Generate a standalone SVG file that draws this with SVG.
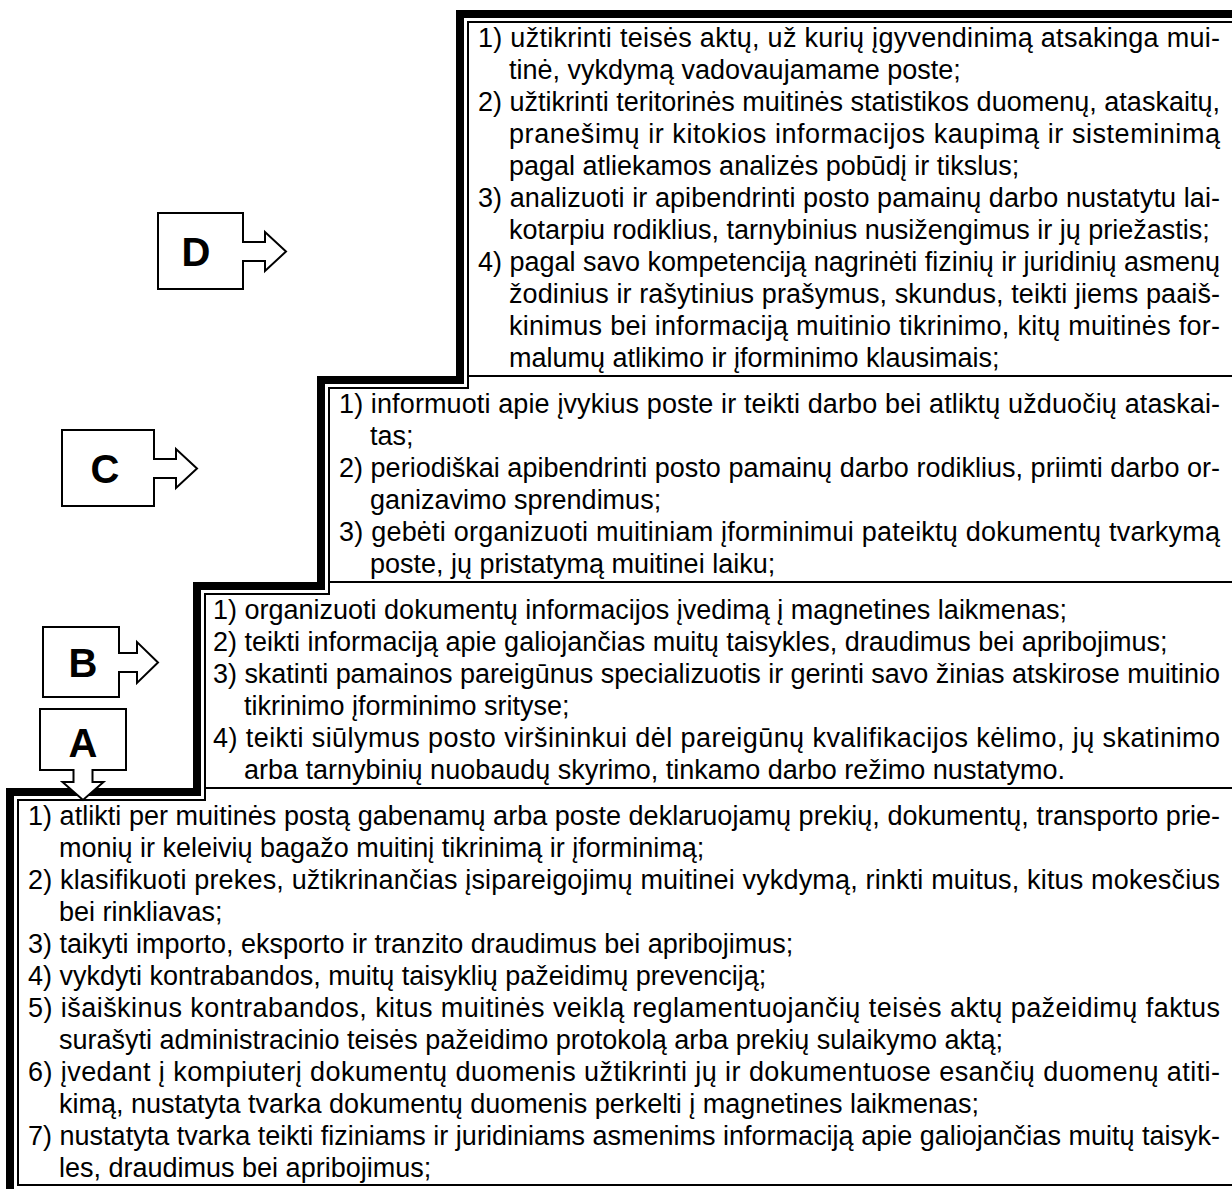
<svg xmlns="http://www.w3.org/2000/svg" width="1232" height="1189" viewBox="0 0 1232 1189">
<style>
.t{font-family:"Liberation Sans",Arial,Helvetica,sans-serif;font-size:27px;fill:#000}
.L{font-family:"Liberation Sans",Arial,Helvetica,sans-serif;font-size:40px;font-weight:bold;fill:#000;text-anchor:middle}
.thick{fill:none;stroke:#000;stroke-width:8;stroke-linejoin:miter}
.thin{fill:none;stroke:#000;stroke-width:2}
.box{fill:#fff;stroke:#000;stroke-width:2;stroke-linejoin:miter}
</style>
<rect width="1232" height="1189" fill="#fff"/>
<g id="frame">
<path class="thick" d="M1232,14 H460 V380 H321 V586 H197 V792 H10 V1189"/>
<path class="thin" d="M1232,22 H468 V388 H329 V594 H205 V800 H18 V1185 H1232"/>
<path class="thin" d="M468,376 H1232 M329,582 H1232 M205,788 H1232"/>
</g>
<g id="section-D">
<text class="t" x="478" y="47" textLength="742" lengthAdjust="spacing">1) užtikrinti teisės aktų, už kurių įgyvendinimą atsakinga mui-</text>
<text class="t" x="509" y="79">tinė, vykdymą vadovaujamame poste;</text>
<text class="t" x="478" y="111" textLength="742" lengthAdjust="spacing">2) užtikrinti teritorinės muitinės statistikos duomenų, ataskaitų,</text>
<text class="t" x="509" y="143" textLength="711" lengthAdjust="spacing">pranešimų ir kitokios informacijos kaupimą ir sisteminimą</text>
<text class="t" x="509" y="175">pagal atliekamos analizės pobūdį ir tikslus;</text>
<text class="t" x="478" y="207" textLength="742" lengthAdjust="spacing">3) analizuoti ir apibendrinti posto pamainų darbo nustatytu lai-</text>
<text class="t" x="509" y="239">kotarpiu rodiklius, tarnybinius nusižengimus ir jų priežastis;</text>
<text class="t" x="478" y="271" textLength="742" lengthAdjust="spacing">4) pagal savo kompetenciją nagrinėti fizinių ir juridinių asmenų</text>
<text class="t" x="509" y="303" textLength="711" lengthAdjust="spacing">žodinius ir rašytinius prašymus, skundus, teikti jiems paaiš-</text>
<text class="t" x="509" y="335" textLength="711" lengthAdjust="spacing">kinimus bei informaciją muitinio tikrinimo, kitų muitinės for-</text>
<text class="t" x="509" y="367">malumų atlikimo ir įforminimo klausimais;</text>
</g>
<g id="section-C">
<text class="t" x="339" y="413" textLength="881" lengthAdjust="spacing">1) informuoti apie įvykius poste ir teikti darbo bei atliktų užduočių ataskai-</text>
<text class="t" x="370" y="445">tas;</text>
<text class="t" x="339" y="477" textLength="881" lengthAdjust="spacing">2) periodiškai apibendrinti posto pamainų darbo rodiklius, priimti darbo or-</text>
<text class="t" x="370" y="509">ganizavimo sprendimus;</text>
<text class="t" x="339" y="541" textLength="881" lengthAdjust="spacing">3) gebėti organizuoti muitiniam įforminimui pateiktų dokumentų tvarkymą</text>
<text class="t" x="370" y="573">poste, jų pristatymą muitinei laiku;</text>
</g>
<g id="section-B">
<text class="t" x="213" y="619">1) organizuoti dokumentų informacijos įvedimą į magnetines laikmenas;</text>
<text class="t" x="213" y="651">2) teikti informaciją apie galiojančias muitų taisykles, draudimus bei apribojimus;</text>
<text class="t" x="213" y="683" textLength="1007" lengthAdjust="spacing">3) skatinti pamainos pareigūnus specializuotis ir gerinti savo žinias atskirose muitinio</text>
<text class="t" x="244" y="715">tikrinimo įforminimo srityse;</text>
<text class="t" x="213" y="747" textLength="1007" lengthAdjust="spacing">4) teikti siūlymus posto viršininkui dėl pareigūnų kvalifikacijos kėlimo, jų skatinimo</text>
<text class="t" x="244" y="779">arba tarnybinių nuobaudų skyrimo, tinkamo darbo režimo nustatymo.</text>
</g>
<g id="section-A">
<text class="t" x="28" y="825" textLength="1192" lengthAdjust="spacing">1) atlikti per muitinės postą gabenamų arba poste deklaruojamų prekių, dokumentų, transporto prie-</text>
<text class="t" x="59" y="857">monių ir keleivių bagažo muitinį tikrinimą ir įforminimą;</text>
<text class="t" x="28" y="889" textLength="1192" lengthAdjust="spacing">2) klasifikuoti prekes, užtikrinančias įsipareigojimų muitinei vykdymą, rinkti muitus, kitus mokesčius</text>
<text class="t" x="59" y="921">bei rinkliavas;</text>
<text class="t" x="28" y="953">3) taikyti importo, eksporto ir tranzito draudimus bei apribojimus;</text>
<text class="t" x="28" y="985">4) vykdyti kontrabandos, muitų taisyklių pažeidimų prevenciją;</text>
<text class="t" x="28" y="1017" textLength="1192" lengthAdjust="spacing">5) išaiškinus kontrabandos, kitus muitinės veiklą reglamentuojančių teisės aktų pažeidimų faktus</text>
<text class="t" x="59" y="1049">surašyti administracinio teisės pažeidimo protokolą arba prekių sulaikymo aktą;</text>
<text class="t" x="28" y="1081" textLength="1192" lengthAdjust="spacing">6) įvedant į kompiuterį dokumentų duomenis užtikrinti jų ir dokumentuose esančių duomenų atiti-</text>
<text class="t" x="59" y="1113">kimą, nustatyta tvarka dokumentų duomenis perkelti į magnetines laikmenas;</text>
<text class="t" x="28" y="1145" textLength="1192" lengthAdjust="spacing">7) nustatyta tvarka teikti fiziniams ir juridiniams asmenims informaciją apie galiojančias muitų taisyk-</text>
<text class="t" x="59" y="1177">les, draudimus bei apribojimus;</text>
</g>
<g id="node-D">
<path class="box" d="M158,213 H243 V242 H265 V232 L286,251.5 L265,271 V261 H243 V289 H158 Z"/>
<text class="L" x="196" y="266">D</text>
</g>
<g id="node-C">
<path class="box" d="M62,430 H154 V459 H176 V449 L197,468.5 L176,488 V478 H154 V506 H62 Z"/>
<text class="L" x="105" y="483">C</text>
</g>
<g id="node-B">
<path class="box" d="M43,627 H119 V653 H137 V642 L158,662.5 L137,683 V672 H119 V697 H43 Z"/>
<text class="L" x="83" y="677">B</text>
</g>
<g id="node-A">
<path class="box" d="M40,709 H126 V770 H92.5 V782 H103.5 L83,800 L62.5,782 H73.5 V770 H40 Z"/>
<text class="L" x="83" y="757">A</text>
</g>
</svg>
